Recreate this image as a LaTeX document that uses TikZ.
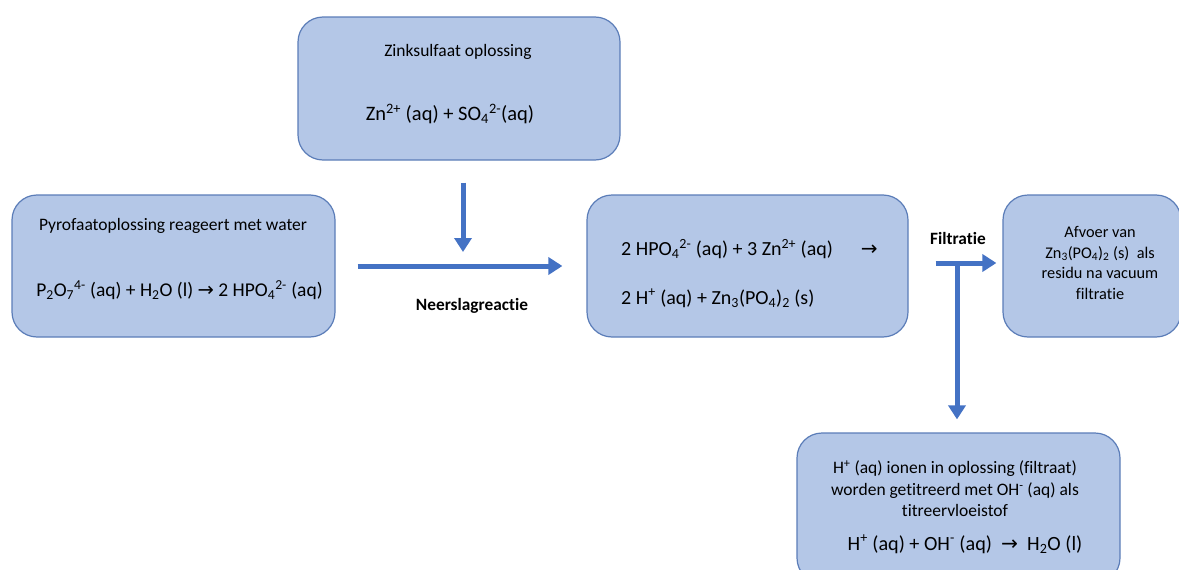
\documentclass[tikz,border=0pt]{standalone}
\usepackage{fontspec}
\setmainfont{Carlito}[Ligatures=NoCommon]
\newfontfamily\symfont{DejaVu Sans}
\usetikzlibrary{arrows.meta}
\definecolor{boxfill}{HTML}{B4C7E7}
\definecolor{boxline}{HTML}{5B7DB8}
\definecolor{arrowblue}{HTML}{4472C4}
\newcommand{\subx}[1]{\textsubscript{#1}}
\newcommand{\supx}[1]{\textsuperscript{#1}}
\newcommand{\pijlteken}{{\symfont\char"2192}}

\begin{document}
\begin{tikzpicture}[x=1pt, y=-1pt,
    stap/.style={draw=boxline, fill=boxfill, rounded corners=25pt, line width=1.2pt, inner sep=0pt},
    titel/.style={font=\fontsize{17.5}{21}\selectfont, align=center, inner sep=0pt},
    formule/.style={font=\fontsize{20}{24}\selectfont, inner sep=0pt},
    kop/.style={font=\fontsize{17.3}{21}\selectfont\bfseries, inner sep=0pt},
    pijl/.style={draw=arrowblue, line width=5pt, -{Triangle[width=17pt, length=14pt]}}]
    \useasboundingbox (0,0) rectangle (1179,570);
    \clip (0,0) rectangle (1179,570);

    % blokken
    \node [stap, minimum width=322pt, minimum height=143pt] (zink) at (459,88.5) {};
    \node [stap, minimum width=323pt, minimum height=142pt] (pyro) at (173.5,266) {};
    \node [stap, minimum width=321pt, minimum height=142pt] (neerslag) at (747.5,266) {};
    \node [stap, minimum width=178pt, minimum height=142pt] (afvoer) at (1092,266) {};
    \node [stap, minimum width=323pt, minimum height=150pt] (filtraat) at (958.5,508) {};

    % teksten
    \node [titel] (zinktitel) at (458,52) {Zinksulfaat oplossing};
    \node [formule, font=\fontsize{20.5}{24}\selectfont] (zinkreactie) at (450,114) {Zn\supx{2+}\ (aq) + SO\subx{4}\supx{2-}(aq)};
    \node [titel] (pyrotitel) at (173,226) {Pyrofaatoplossing reageert met water};
    \node [formule, font=\fontsize{19.5}{24}\selectfont] (pyroreactie) at (179.5,290) {P\subx{2}O\subx{7}\supx{4-} (aq) + H\subx{2}O (l) \pijlteken\ 2 HPO\subx{4}\supx{2-} (aq)};
    \node [formule, anchor=west] (neerslagreactie) at (621,249) {2 HPO\subx{4}\supx{2-} (aq) + 3 Zn\supx{2+} (aq)\hspace{1.4em}\pijlteken};
    \node [formule, anchor=west] (neerslagproduct) at (621,298) {2 H\supx{+} (aq) + Zn\subx{3}(PO\subx{4})\subx{2} (s)};
    \node [titel, font=\fontsize{16.3}{20.5}\selectfont] (afvoertekst) at (1100,263) {Afvoer van\\Zn\subx{3}(PO\subx{4})\subx{2} (s)\ \ als\\residu na vacuum\\filtratie};
    \node [titel, font=\fontsize{17.5}{21.5}\selectfont] (filtraattekst) at (955,489) {H\supx{+} (aq) ionen in oplossing (filtraat)\\worden getitreerd met OH\supx{-} (aq) als\\titreervloeistof};
    \node [formule, font=\fontsize{20.2}{24}\selectfont] (filtraatreactie) at (965,544) {H\supx{+} (aq) + OH\supx{-} (aq)\ \ \pijlteken\ \ H\subx{2}O (l)};

    % pijlen
    \coordinate (samen) at (463,266);
    \coordinate (splits) at (957,265);
    \draw [pijl, shorten <=22pt, shorten >=14pt] (zink.south -| samen) -- (samen);
    \draw [pijl, shorten <=22pt, shorten >=24pt] (pyro) -- (neerslag);
    \draw [pijl, shorten <=27pt, shorten >=6pt] ([yshift=3pt]neerslag.east) -- ([yshift=3pt]afvoer.west);
    \draw [pijl, shorten >=13pt] (splits) -- (filtraat.north -| splits);
    \node [kop] (neerslaglabel) at (472,306) {Neerslagreactie};
    \node [kop] (filtratielabel) at (958,238) {Filtratie};
\end{tikzpicture}
\end{document}
